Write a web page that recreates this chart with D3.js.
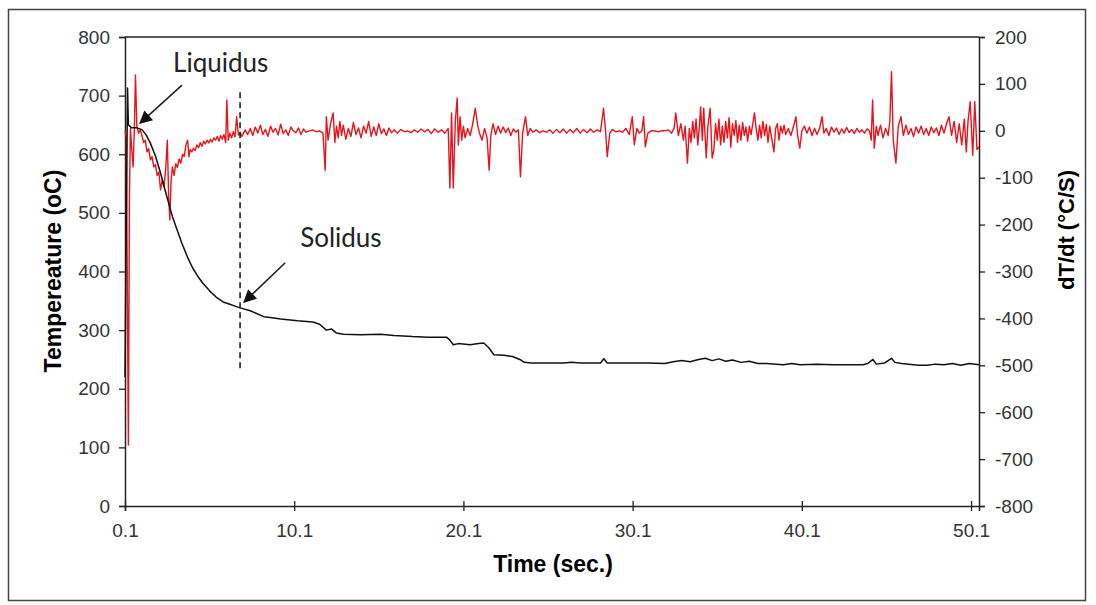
<!DOCTYPE html>
<html>
<head>
<meta charset="utf-8">
<script src="https://cdn.jsdelivr.net/npm/d3@7"></script>
<style>
  body { margin: 0; background: white; }
</style>
</head>
<body>
<div id="chart"></div>
<script>
// temperature curve (left axis)
let tempTime = [0.1, 0.18, 0.25, 0.3, 0.5, 0.8, 1.1, 1.35, 1.6, 1.9, 2.2, 2.55, 2.9, 3.45, 3.8, 4.1, 4.4, 4.7, 5.1, 5.5, 5.9, 6.3, 6.6, 6.9, 7.5, 8.3, 8.8, 9.3, 10.3, 11.2, 11.6, 12.0, 12.3, 12.6, 13.0, 14.0, 15.2, 16.0, 17.1, 18.0, 19.1, 19.3, 19.5, 19.8, 20.5, 21.0, 21.3, 21.6, 21.9, 22.5, 23.0, 23.5, 23.7, 24.1, 26.0, 26.5, 27.0, 28.2, 28.4, 28.6, 30.0, 31.0, 32.0, 32.5, 33.0, 33.5, 34.0, 34.4, 34.8, 35.2, 35.6, 36.0, 36.5, 37.0, 37.5, 38.0, 39.0, 39.5, 40.0, 41.0, 42.0, 43.7, 44.0, 44.3, 44.5, 45.0, 45.4, 45.6, 46.0, 47.0, 47.5, 48.0, 48.5, 49.0, 49.5, 50.0, 50.57];
let tempValues = [220, 500, 713, 650, 645, 645, 642, 633, 619, 597, 568, 530, 494, 449, 424, 406, 392, 380, 367, 356, 348, 344, 341, 338, 333, 323, 321, 319, 316, 314, 310, 300, 302, 295, 293, 292, 293, 291, 289, 288, 288, 283, 275, 277, 275, 277, 278, 270, 258, 257, 255, 249, 245, 244, 244, 245, 244, 244, 251, 244, 244, 244, 243, 246, 248, 246, 250, 252, 248, 251, 247, 249, 245, 247, 243, 243, 241, 243, 241, 242, 241, 241, 243, 250, 242, 244, 252, 245, 243, 240, 240, 242, 241, 243, 240, 243, 241];

// cooling rate curve (right axis)
let rateTime = [0.1, 0.18, 0.25, 0.3, 0.36, 0.42, 0.5, 0.58, 0.65, 0.72, 0.8, 0.9, 1.0, 1.1, 1.2, 1.3, 1.4, 1.5, 1.6, 1.7, 1.8, 1.9, 2.0, 2.1, 2.2, 2.3, 2.4, 2.5, 2.6, 2.68, 2.75, 2.82, 2.9, 3.0, 3.1, 3.2, 3.3, 3.4, 3.5, 3.6, 3.7, 3.8, 3.88, 3.95, 4.05, 4.15, 4.25, 4.35, 4.45, 4.55, 4.65, 4.75, 4.85, 4.95, 5.05, 5.15, 5.25, 5.35, 5.45, 5.55, 5.65, 5.75, 5.85, 5.95, 6.05, 6.12, 6.2, 6.3, 6.4, 6.5, 6.6, 6.7, 6.8, 6.9,
  7.0, 7.2, 7.35, 7.5, 7.65, 7.8, 7.95, 8.1, 8.25, 8.4, 8.55, 8.7, 8.85, 9.0, 9.15, 9.3, 9.45, 9.6, 9.75, 9.9, 10.05, 10.2, 10.35, 10.5, 10.65, 10.8, 11.0, 11.2, 11.4, 11.6, 11.8, 11.93, 12.0, 12.1, 12.25, 12.4, 12.5, 12.6, 12.7, 12.8, 12.9, 13.0, 13.15, 13.3, 13.45, 13.6, 13.75, 13.9, 14.05, 14.2, 14.35, 14.5, 14.65, 14.8, 14.95, 15.1, 15.25, 15.4, 15.55, 15.7, 15.85, 16.0, 16.2, 16.4, 16.6, 16.8, 17.0, 17.2, 17.4, 17.6, 17.8, 18.0, 18.2, 18.4, 18.6, 18.8, 19.0, 19.2,
  19.3, 19.4, 19.5, 19.62, 19.73, 19.8, 19.9, 20.0, 20.1, 20.2, 20.35, 20.5, 20.65, 20.8, 20.95, 21.05, 21.2, 21.35, 21.5, 21.62, 21.72, 21.85, 22.0, 22.15, 22.3, 22.45, 22.6, 22.75, 22.9, 23.05, 23.2, 23.35, 23.47, 23.6, 23.77, 23.9, 24.05, 24.2, 24.4, 24.6, 24.8, 25.0, 25.2, 25.4, 25.6, 25.8, 26.0, 26.2, 26.4, 26.6, 26.8, 27.0, 27.2, 27.4, 27.6, 27.8, 28.0, 28.2, 28.38, 28.5, 28.6, 28.75, 28.9, 29.1, 29.3, 29.5, 29.7, 29.9, 30.08, 30.2, 30.35, 30.5, 30.65, 30.75, 30.85, 31.0, 31.2, 31.4, 31.6, 31.8, 32.0, 32.2, 32.4, 32.55, 32.65, 32.8, 32.95, 33.1, 33.2, 33.34, 33.45, 33.55, 33.65, 33.75, 33.85, 33.95, 34.05, 34.12, 34.22, 34.3, 34.45, 34.55, 34.68, 34.8, 34.9,
  35.0, 35.1, 35.2, 35.3, 35.4, 35.5, 35.6, 35.7, 35.8, 35.9, 36.0, 36.1, 36.2, 36.3, 36.4, 36.5, 36.6, 36.7, 36.8, 36.9, 37.0, 37.1, 37.2, 37.3, 37.4, 37.5, 37.6, 37.7, 37.8, 37.9, 38.0, 38.1, 38.2, 38.3, 38.45, 38.55, 38.65, 38.75, 38.85, 38.95, 39.05, 39.15, 39.3, 39.45, 39.6, 39.75, 39.85, 39.98, 40.1, 40.25, 40.4, 40.55, 40.7, 40.85, 41.0, 41.15, 41.3, 41.4, 41.55, 41.7, 41.85, 42.0, 42.15, 42.3, 42.45, 42.6, 42.75, 42.9, 43.05, 43.2, 43.35, 43.5, 43.65, 43.8, 43.95, 44.1, 44.2, 44.28, 44.38, 44.5, 44.6, 44.75, 44.9, 45.05, 45.2, 45.3, 45.4, 45.5, 45.66, 45.8, 45.96, 46.1, 46.25, 46.4, 46.55, 46.7, 46.85, 47.0, 47.15, 47.3, 47.45, 47.6, 47.75, 47.9, 48.05, 48.2, 48.35, 48.5, 48.65, 48.8, 48.95, 49.1, 49.25, 49.4, 49.55, 49.7, 49.82, 49.92, 50.05, 50.2, 50.32, 50.45, 50.57];
let rateValues = [0, -15, -400, -670, -150, 5, -40, -77, 0, 119, 10, -5, 2, -10, -25, -20, -45, -38, -62, -55, -77, -72, -95, -88, -126, -105, -119, -84, -20, -140, -190, -110, -77, -95, -70, -78, -60, -69, -50, -55, -30, -20, -55, -40, -45, -37, -42, -30, -36, -25, -33, -22, -28, -20, -26, -18, -24, -15, -20, -12, -22, -10, -18, -8, -25, 66, -20, -5, -15, -2, -13, 30, -9, -3,
  -12, 2, -8, 5, -10, 8, -5, 12, -8, 3, -12, 10, -3, 5, -9, 14, -6, 2, -10, 8, 0, -4, 6, -8, 4, -3, 0, 2, -2, 0, -5, -84, 30, -20, 15, 38, -25, 10, -15, 20, -10, 12, -18, 5, -12, 18, -8, 6, -15, 10, -5, 20, -12, 8, -10, 15, -6, 4, -10, 6, -4, 2, -5, 3, -2, 0, -4, 2, -3, 4, -2, 3, -6, 4, -3, 2, -5, 5,
  -122, 38, -122, 20, 70, -30, 30, -20, 10, -15, 5, -10, 15, 48, 10, -5, -20, 5, -15, -84, -10, 15, -8, 10, -5, 8, -4, 6, -10, 4, -3, 2, -98, -5, 30, -10, 5, -3, 2, -4, 0, -3, 2, -5, 3, -4, 4, -5, 3, -4, 5, -5, 3, -4, 4, -3, 2, -2, 48, 0, -55, -5, 3, -2, 0, -3, 5, -8, 30, -30, 5, -5, 0, 30, -34, -5, 0, 0, -2, 0, 0, 2, -5, 5, 38, -10, 15, -20, 10, -69, 5, -25, 20, -15, 25, -30, 10, 51, -20, 48, -58, 10, 48, -58, -41,
  15, -20, 25, -30, 10, -25, 20, -15, 28, -35, 15, -10, 22, -25, 12, -20, 18, -10, 8, -22, 10, -8, 15, 38, 5, -20, 12, -15, 20, -10, 14, -25, 10, -12, -45, 5, 15, -20, 10, -5, 12, -8, 5, -10, 8, 30, -10, -37, 0, 10, -5, 8, -10, 5, -8, 6, 30, -5, 5, -10, 8, -3, 6, -8, 4, -5, 7, -4, 3, -6, 5, -3, 2, -5, 4, 0, -20, 66, -37, 10, -10, 12, -15, 5, -10, 20, 126, -20, -69, 10, 30, -10, 12, -8, 5, -12, 8, -5, 10, -8, 5, -10, 8, -4, 6, -10, 12, -5, 15, 30, -10, 20, -25, 15, -30, 25, -45, 20, 62, -52, 62, -40, -34];

let xTickValues = [0.1, 10.1, 20.1, 30.1, 40.1, 50.1];
let leftTicks = [0, 100, 200, 300, 400, 500, 600, 700, 800];
let rightTicks = [-800, -700, -600, -500, -400, -300, -200, -100, 0, 100, 200];

// annotations in data units (time, temperature)
let liquidus = { text: 'Liquidus', tx: 2.94, ty: 740, fromT: 3.47, fromY: 718, toT: 0.99, toY: 653 };
let solidus = { text: 'Solidus', tx: 10.45, ty: 442, fromT: 9.57, fromY: 415, toT: 7.14, toY: 348 };
let solidusLine = { t: 6.9, y0: 235, y1: 710 };

let width = 1096, height = 605;
let margin = { top: 37, bottom: 99, left: 125, right: 117 };

let svg = d3.select('#chart')
  .append('svg')
  .attr('width', width)
  .attr('height', height)
  .style('background', 'white');

svg.append('defs').append('marker')
  .attr('id', 'head')
  .attr('viewBox', '0 0 10 10')
  .attr('refX', 9)
  .attr('refY', 5)
  .attr('markerWidth', 16)
  .attr('markerHeight', 13)
  .attr('markerUnits', 'userSpaceOnUse')
  .attr('orient', 'auto')
  .append('path')
  .attr('d', 'M0,0 L10,5 L0,10 z')
  .attr('fill', '#111');

// outer frame
svg.append('rect')
  .attr('x', 8.5)
  .attr('y', 9.5)
  .attr('width', 1077)
  .attr('height', 591)
  .attr('fill', 'none')
  .attr('stroke', '#444')
  .attr('stroke-width', 1.5);

let xscale = d3.scaleLinear()
  .domain([0.1, 50.57])
  .range([margin.left, width - margin.right]);

let yscale = d3.scaleLinear()
  .domain([0, 800])
  .range([height - margin.bottom, margin.top]);

let yscale2 = d3.scaleLinear()
  .domain([-800, 200])
  .range([height - margin.bottom, margin.top]);

let tickFont = 'Liberation Sans, Arial, sans-serif';

// top border of plot
svg.append('line')
  .attr('x1', margin.left)
  .attr('x2', width - margin.right)
  .attr('y1', margin.top)
  .attr('y2', margin.top)
  .attr('stroke', '#222')
  .attr('stroke-width', 1.5);

let xAxis = svg.append('g')
  .attr('transform', `translate(0, ${height - margin.bottom})`)
  .call(d3.axisBottom(xscale).tickValues(xTickValues).tickFormat(d3.format('.1f')).tickSizeOuter(0).tickSize(5).tickPadding(13));

xAxis.selectAll('.tick line').attr('y1', -5);

let leftAxis = svg.append('g')
  .attr('transform', `translate(${margin.left}, 0)`)
  .call(d3.axisLeft(yscale).tickValues(leftTicks).tickSizeOuter(0).tickSize(6).tickPadding(9));

let rightAxis = svg.append('g')
  .attr('transform', `translate(${width - margin.right}, 0)`)
  .call(d3.axisRight(yscale2).tickValues(rightTicks).tickFormat(d => String(d)).tickSizeOuter(0).tickSize(6).tickPadding(10));

[xAxis, leftAxis, rightAxis].forEach(g => {
  g.select('.domain').attr('stroke', '#222').attr('stroke-width', 1.5);
  g.selectAll('.tick line').attr('stroke', '#222').attr('stroke-width', 1.3);
  g.selectAll('.tick text')
    .attr('fill', '#333')
    .style('font-family', tickFont)
    .style('font-size', '19px');
});

// curves
let tempLine = d3.line()
  .x((d, i) => xscale(tempTime[i]))
  .y(d => yscale(d));

let rateLine = d3.line()
  .x((d, i) => xscale(rateTime[i]))
  .y(d => yscale2(d));

svg.append('path')
  .datum(rateValues)
  .attr('d', rateLine)
  .attr('fill', 'none')
  .attr('stroke', '#e8141a')
  .attr('stroke-width', 1.4)
  .attr('stroke-linejoin', 'round');

svg.append('path')
  .datum(tempValues)
  .attr('d', tempLine)
  .attr('fill', 'none')
  .attr('stroke', '#111')
  .attr('stroke-width', 1.5)
  .attr('stroke-linejoin', 'round');

// solidus marker line
svg.append('line')
  .attr('x1', xscale(solidusLine.t))
  .attr('x2', xscale(solidusLine.t))
  .attr('y1', yscale(solidusLine.y0))
  .attr('y2', yscale(solidusLine.y1))
  .attr('stroke', '#111')
  .attr('stroke-width', 1.5)
  .attr('stroke-dasharray', '6,4');

// annotations
[liquidus, solidus].forEach(a => {
  svg.append('line')
    .attr('x1', xscale(a.fromT))
    .attr('y1', yscale(a.fromY))
    .attr('x2', xscale(a.toT))
    .attr('y2', yscale(a.toY))
    .attr('stroke', '#222')
    .attr('stroke-width', 1.6)
    .attr('marker-end', 'url(#head)');

  svg.append('text')
    .text(a.text)
    .attr('x', xscale(a.tx))
    .attr('y', yscale(a.ty))
    .attr('fill', '#222')
    .style('font-family', 'Lato, sans-serif')
    .style('font-size', '26px');
});

// axis titles
svg.append('text')
  .text('Time (sec.)')
  .attr('x', 553)
  .attr('y', 572)
  .attr('text-anchor', 'middle')
  .style('font-family', tickFont)
  .style('font-weight', 'bold')
  .style('font-size', '23px');

svg.append('text')
  .text('Tempereature (oC)')
  .attr('x', -271)
  .attr('y', 61)
  .attr('transform', 'rotate(-90)')
  .attr('text-anchor', 'middle')
  .style('font-family', tickFont)
  .style('font-weight', 'bold')
  .style('font-size', '23px');

svg.append('text')
  .text('dT/dt (°C/S)')
  .attr('x', -230)
  .attr('y', 1074)
  .attr('transform', 'rotate(-90)')
  .attr('text-anchor', 'middle')
  .style('font-family', tickFont)
  .style('font-weight', 'bold')
  .style('font-size', '22px');
</script>
</body>
</html>
